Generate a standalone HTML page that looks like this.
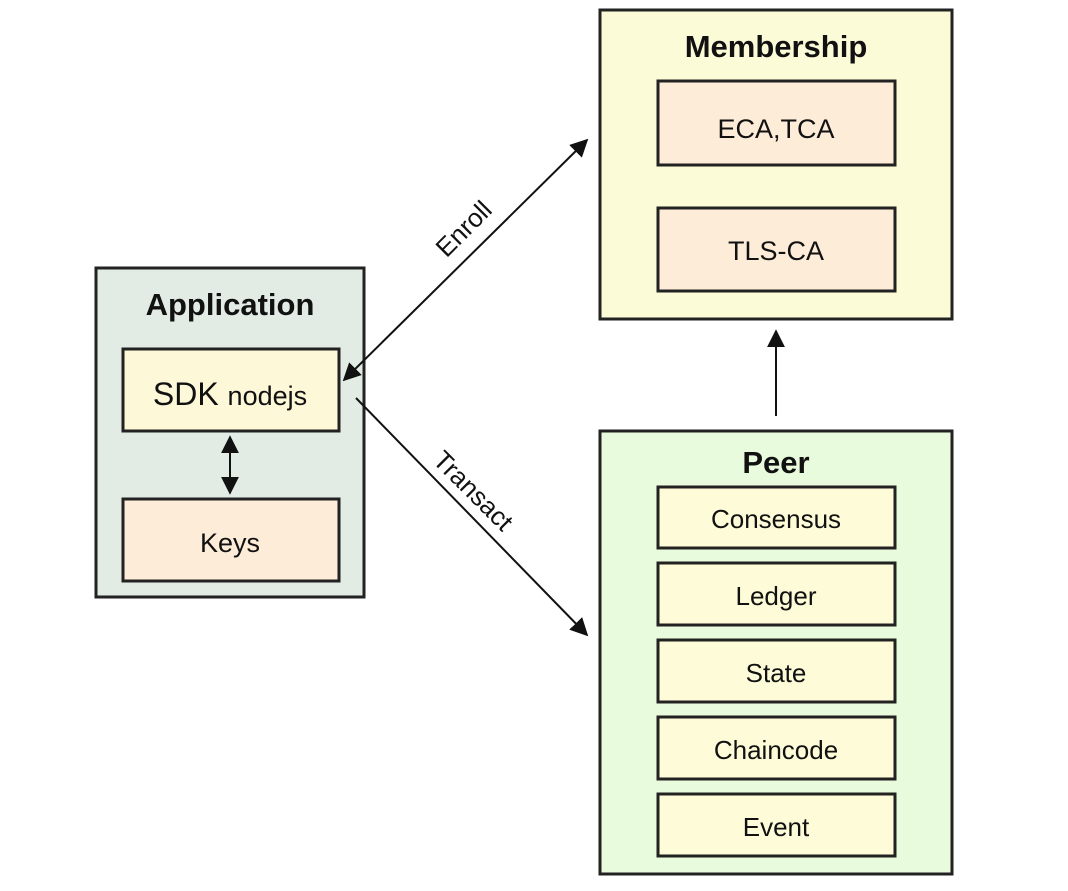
<!DOCTYPE html>
<html><head><style>
body{margin:0;background:#fff;width:1068px;height:886px;overflow:hidden}
</style></head><body>
<svg width="1068" height="886" xmlns="http://www.w3.org/2000/svg" font-family="Liberation Sans, sans-serif">
<defs>
<marker id="b" viewBox="0 0 10 10" markerWidth="18" markerHeight="18" refX="9" refY="5" orient="auto-start-reverse" markerUnits="userSpaceOnUse"><path d="M0,0L10,5L0,10z" fill="#111"/></marker></defs>
<g stroke="#222" stroke-width="3">
<rect x="96" y="268" width="268" height="329" fill="#e2ece4"/>
<rect x="123" y="349" width="216" height="82" fill="#fdf8d8"/>
<rect x="123" y="499" width="216" height="82" fill="#fcecd8"/>
<rect x="600" y="10" width="352" height="309" fill="#fbfbd8"/>
<rect x="658" y="81" width="237" height="84" fill="#fcecd8"/>
<rect x="658" y="208" width="237" height="83" fill="#fcecd8"/>
<rect x="600" y="431" width="352" height="443" fill="#e8fbdc"/>
<rect x="658" y="487" width="237" height="61" fill="#fdfbd8"/>
<rect x="658" y="563" width="237" height="62" fill="#fdfbd8"/>
<rect x="658" y="640" width="237" height="62" fill="#fdfbd8"/>
<rect x="658" y="717" width="237" height="62" fill="#fdfbd8"/>
<rect x="658" y="794" width="237" height="62" fill="#fdfbd8"/>
</g>
<g stroke="#111" stroke-width="2" fill="none">
<line x1="230" y1="437" x2="230" y2="493" marker-start="url(#b)" marker-end="url(#b)"/>
<line x1="344" y1="380" x2="587" y2="140" marker-start="url(#b)" marker-end="url(#b)"/>
<line x1="356" y1="398" x2="587" y2="635" marker-end="url(#b)"/>
<line x1="776" y1="416" x2="776" y2="331" marker-end="url(#b)"/>
</g>
<g fill="#111" text-anchor="middle">
<text x="230" y="315" font-size="31" font-weight="bold">Application</text>
<text x="776" y="57" font-size="31" font-weight="bold">Membership</text>
<text x="776" y="473" font-size="31" font-weight="bold">Peer</text>
<text x="230" y="405" font-size="32">SDK <tspan font-size="27">nodejs</tspan></text>
<text x="230" y="552" font-size="27">Keys</text>
<text x="776" y="138" font-size="27">ECA,TCA</text>
<text x="776" y="260" font-size="27">TLS-CA</text>
<text x="776" y="528" font-size="26">Consensus</text>
<text x="776" y="605" font-size="26">Ledger</text>
<text x="776" y="682" font-size="26">State</text>
<text x="776" y="759" font-size="26">Chaincode</text>
<text x="776" y="836" font-size="26">Event</text>
<text x="0" y="0" font-size="26" transform="translate(470,235) rotate(-45)">Enroll</text>
<text x="0" y="0" font-size="26" transform="translate(467,497) rotate(45)">Transact</text>
</g>
</svg>
</body></html>
